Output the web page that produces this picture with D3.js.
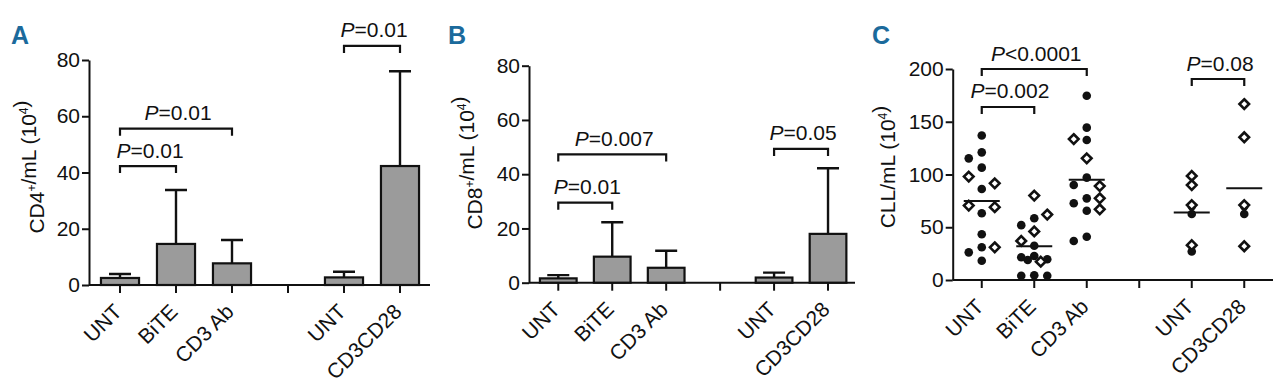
<!DOCTYPE html>
<html>
<head>
<meta charset="utf-8">
<script src="https://cdnjs.cloudflare.com/ajax/libs/d3/7.8.5/d3.min.js"></script>
<style>
body { margin: 0; background: #fff; }
svg { display: block; font-family: "Liberation Sans Narrow", "Arial Narrow", "Liberation Sans", Arial, sans-serif; }
.axis path, .axis line { stroke: #111; stroke-width: 2px; }
.axis text { font-size: 21px; fill: #111; }
.xt text { font-size: 21px; }
.lbl { font-size: 21px; fill: #111; }
.ylbl { font-size: 21px; fill: #111; }
.panel { font-size: 25px; font-weight: bold; fill: #1b6a9c; }
</style>
</head>
<body>
<div id="fig"></div>
<script>
// categories (4th slot is the empty gap between the two experiments)
const groups = ["UNT", "BiTE", "CD3 Ab", "", "UNT", "CD3CD28"];

// A: CD4+ cells, mean and SD
const cd4Mean = [2.5, 14.6, 7.7, null, 2.7, 42.3];
const cd4Sd = [1.4, 19.2, 8.3, null, 2.0, 33.7];
// B: CD8+ cells
const cd8Mean = [1.6, 9.6, 5.5, null, 1.9, 18.0];
const cd8Sd = [1.2, 12.7, 6.3, null, 1.8, 24.2];

// C: CLL cells, two donor sets (filled dots / open diamonds)
const cllDots = [
  [137, 121, 115.3, 106.5, 86.3, 63.2, 43.3, 31, 26.2, 18.3],
  [58.5, 52, 32.5, 22.7, 21.5, 19.6, 19, 4.5, 4, 4],
  [174.7, 144.4, 132.7, 97, 90, 77.4, 72.7, 65.7, 41, 37],
  [],
  [70, 62.6, 27],
  [70, 62.6]
];
const cllDiamonds = [
  [98, 91.6, 70.5, 69, 31],
  [80, 62, 46, 37, 17.4],
  [133.6, 115.3, 89, 77.4, 67],
  [],
  [98.6, 90, 71, 33],
  [166.8, 135.3, 71, 32]
];
const cllCentre = [75, 32, 95, null, 64, 87];

const barTicks = [0, 20, 40, 60, 80];
const cllTicks = [0, 50, 100, 150, 200];

// significance brackets: [from, to, height, text]
const pairsA = [[0, 1, 42.3, "=0.01"], [0, 2, 55.6, "=0.01"], [4, 5, 85, "=0.01"]];
const pairsB = [[0, 1, 29.5, "=0.01"], [0, 2, 47.3, "=0.007"], [4, 5, 49.3, "=0.05"]];
const pairsC = [[0, 1, 164, "=0.002"], [0, 2, 200, "<0.0001"], [4, 5, 190.5, "=0.08"]];

const svg = d3.select("#fig").append("svg")
  .attr("width", 1280)
  .attr("height", 390);

function panel(o) {
  const x = d3.scaleBand().domain(d3.range(groups.length))
    .range([o.x0, o.x1]).paddingInner(0.32).paddingOuter(0.16);
  const y = d3.scaleLinear().domain([0, o.max]).range([o.yBase, o.yTop]);
  const g = svg.append("g");

  g.append("text").attr("class", "panel")
    .attr("x", o.letterX).attr("y", 44).text(o.letter);

  // y axis
  g.append("g").attr("class", "axis")
    .attr("transform", `translate(${o.axisX},0)`)
    .call(d3.axisLeft(y).tickValues(o.ticks).tickSize(7).tickSizeOuter(0).tickPadding(2));

  // x axis
  const xa = g.append("g").attr("class", "axis xt")
    .attr("transform", `translate(0,${o.yBase})`)
    .call(d3.axisBottom(x).tickSize(8).tickSizeOuter(0).tickFormat(i => groups[i]));
  xa.select(".domain").remove();
  xa.selectAll("text")
    .attr("x", 0).attr("y", 0).attr("dy", null)
    .attr("text-anchor", "end")
    .attr("transform", "translate(3,28) rotate(-45)");
  g.append("line")
    .attr("x1", o.axisX).attr("x2", o.axisEnd)
    .attr("y1", o.yBase).attr("y2", o.yBase)
    .attr("stroke", "#111").attr("stroke-width", 2);

  // y label with superscripts
  const yl = g.append("text").attr("class", "ylbl")
    .attr("text-anchor", "middle")
    .attr("transform", `translate(${o.labelX},${o.labelY}) rotate(-90)`)
    .attr("dy", "0.35em");
  o.label.forEach(([t, sup]) => {
    yl.append("tspan").text(t);
    if (sup) yl.append("tspan").attr("font-size", 12).attr("dy", -8).text(sup);
    if (sup) yl.append("tspan").attr("dy", 8).text("");
  });

  // brackets
  o.pairs.forEach(([a, b, v, t]) => {
    const xa0 = x(a) + x.bandwidth() / 2, xb0 = x(b) + x.bandwidth() / 2, yy = y(v);
    g.append("path")
      .attr("d", `M${xa0},${yy + 7}V${yy}H${xb0}V${yy + 7}`)
      .attr("fill", "none").attr("stroke", "#111").attr("stroke-width", 2.2);
    const tx = g.append("text").attr("class", "lbl")
      .attr("x", (xa0 + xb0) / 2 + 2).attr("y", yy - 8.5)
      .attr("text-anchor", "middle");
    tx.append("tspan").attr("font-style", "italic").text("P");
    tx.append("tspan").text(t);
  });

  return { g, x, y };
}

function barPanel(o, mean, sd) {
  const { g, x, y } = panel(o);
  const idx = d3.range(groups.length).filter(i => mean[i] != null);
  const cx = i => x(i) + x.bandwidth() / 2;

  g.selectAll(".err").data(idx).join("path")
    .attr("d", i => `M${cx(i)},${y(mean[i])}V${y(mean[i] + sd[i])}M${cx(i) - 11},${y(mean[i] + sd[i])}H${cx(i) + 11}`)
    .attr("stroke", "#111").attr("stroke-width", 2.4).attr("fill", "none");

  g.selectAll(".bar").data(idx).join("rect")
    .attr("x", i => x(i))
    .attr("y", i => y(mean[i]))
    .attr("width", x.bandwidth())
    .attr("height", i => y(0) - y(mean[i]))
    .attr("fill", "#9b9b9b")
    .attr("stroke", "#111")
    .attr("stroke-width", 2.2);
}

barPanel({
  letter: "A", letterX: 11, max: 80, ticks: barTicks,
  axisX: 89, x0: 92, x1: 428, axisEnd: 430, yBase: 285, yTop: 60,
  labelX: 37, labelY: 167, label: [["CD4", "+"], ["/mL (10", "4"], [")"]],
  pairs: pairsA
}, cd4Mean, cd4Sd);

barPanel({
  letter: "B", letterX: 448, max: 80, ticks: barTicks,
  axisX: 529, x0: 531.3, x1: 855, axisEnd: 855, yBase: 282.7, yTop: 65.7,
  labelX: 475, labelY: 163, label: [["CD8", "+"], ["/mL (10", "4"], [")"]],
  pairs: pairsB
}, cd8Mean, cd8Sd);

// panel C: scatter
(function () {
  const { g, x, y } = panel({
    letter: "C", letterX: 872, max: 200, ticks: cllTicks,
    axisX: 952.7, x0: 955.5, x1: 1270.5, axisEnd: 1273, yBase: 280, yTop: 69,
    labelX: 888, labelY: 167, label: [["CLL/mL (10", "4"], [")"]],
    pairs: pairsC
  });
  const offsets = [0, -13, 13, -6.5, 6.5];

  d3.range(groups.length).forEach(i => {
    const cx = x(i) + x.bandwidth() / 2;
    const spread = cllDots[i].length + cllDiamonds[i].length >= 10;
    const pts = [];
    const add = (v, kind) => {
      const py = y(v), thr = kind === "dot" ? 10 : 11;
      let best = 0, bestD = -1;
      if (spread) {
        for (const k of offsets) {
          let dmin = Infinity;
          pts.forEach(p => { dmin = Math.min(dmin, Math.hypot(p.px - cx - k, p.py - py)); });
          if (dmin >= thr) { best = k; break; }
          if (dmin > bestD) { bestD = dmin; best = k; }
        }
      }
      pts.push({ px: cx + best, py, kind });
    };
    cllDots[i].slice().sort(d3.descending).forEach(v => add(v, "dot"));
    cllDiamonds[i].slice().sort(d3.descending).forEach(v => add(v, "dia"));

    g.selectAll(null).data(pts.filter(p => p.kind === "dot")).join("circle")
      .attr("cx", p => p.px).attr("cy", p => p.py).attr("r", 4.3)
      .attr("fill", "#111");
    g.selectAll(null).data(pts.filter(p => p.kind === "dia")).join("path")
      .attr("d", p => `M${p.px},${p.py - 4.8}L${p.px + 4.8},${p.py}L${p.px},${p.py + 4.8}L${p.px - 4.8},${p.py}Z`)
      .attr("fill", "#fff").attr("stroke", "#111").attr("stroke-width", 2.6);

    if (cllCentre[i] != null) {
      g.append("line")
        .attr("x1", cx - 18).attr("x2", cx + 18)
        .attr("y1", y(cllCentre[i])).attr("y2", y(cllCentre[i]))
        .attr("stroke", "#111").attr("stroke-width", 2);
    }
  });
})();
</script>
</body>
</html>
